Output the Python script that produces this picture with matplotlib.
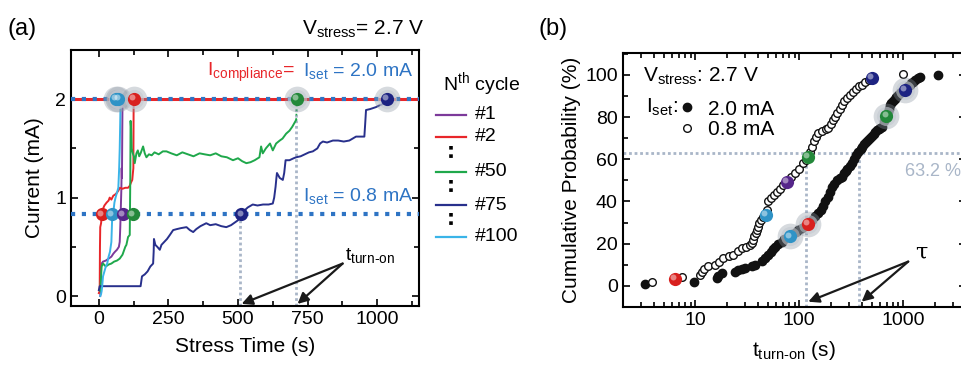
import numpy as np
import matplotlib
matplotlib.use('Agg')
import matplotlib.pyplot as plt
from matplotlib.lines import Line2D
from matplotlib.transforms import offset_copy
from matplotlib.ticker import MultipleLocator, LogLocator, FuncFormatter

plt.rcParams['font.family'] = ['Liberation Sans', 'DejaVu Sans']
plt.rcParams['mathtext.fontset'] = 'custom'
plt.rcParams['mathtext.rm'] = 'Liberation Sans'
plt.rcParams['mathtext.it'] = 'Liberation Sans:italic'

# ---- panel (a): current vs stress time, (t [s], I [mA]) ----
cycle_1 = [(5, 0.0), (7, 0.1), (8, 0.3), (10, 0.33), (15, 0.35), (25, 0.36), (35, 0.38),
           (45, 0.4), (52, 0.43), (58, 0.45), (65, 0.47), (72, 0.5), (75, 0.55), (77, 0.7),
           (79, 0.9), (81, 1.1), (82, 1.3), (83, 1.2), (84, 1.6), (85, 2.0)]
cycle_2 = [(0, 0.03), (3, 0.05), (4, 0.5), (5, 0.7), (8, 0.74), (10, 0.8), (14, 0.88),
           (20, 0.92), (28, 0.95), (35, 0.97), (39, 1.0), (45, 0.98), (52, 1.02), (58, 1.03),
           (65, 1.05), (70, 1.07), (75, 1.1), (85, 1.09), (95, 1.1), (105, 1.1), (111, 1.12),
           (115, 1.15), (120, 1.18), (124, 1.3), (125, 1.95), (126, 2.0)]
cycle_50 = [(5, 0.05), (8, 0.2), (10, 0.3), (15, 0.33), (25, 0.3), (35, 0.32), (45, 0.33),
            (55, 0.35), (65, 0.36), (75, 0.38), (85, 0.42), (95, 0.5), (99, 0.52), (105, 0.6),
            (111, 0.62), (113, 1.2), (114, 1.78), (116, 1.7), (118, 1.5), (122, 1.45),
            (126, 1.42), (129, 1.35), (135, 1.45), (140, 1.48), (145, 1.42), (150, 1.45),
            (159, 1.52), (165, 1.45), (171, 1.41), (180, 1.44), (190, 1.43), (200, 1.46),
            (215, 1.44), (230, 1.47), (243, 1.47), (260, 1.45), (280, 1.43), (300, 1.46),
            (320, 1.44), (340, 1.42), (362, 1.45), (380, 1.44), (400, 1.43), (420, 1.45),
            (440, 1.42), (460, 1.41), (482, 1.38), (500, 1.40), (515, 1.37), (530, 1.35),
            (545, 1.36), (560, 1.38), (577, 1.41), (583, 1.52), (589, 1.45), (600, 1.5),
            (615, 1.55), (625, 1.48), (637, 1.55), (650, 1.58), (660, 1.6), (673, 1.65),
            (685, 1.68), (695, 1.72), (703, 1.76), (709, 1.79)]
cycle_75 = [(0, 0.06), (3, 0.1), (10, 0.1), (40, 0.1), (80, 0.1), (120, 0.1), (150, 0.1),
            (155, 0.2), (165, 0.22), (175, 0.25), (185, 0.3), (195, 0.33), (197, 0.45),
            (198, 0.58), (203, 0.52), (210, 0.5), (219, 0.47), (225, 0.52), (235, 0.55),
            (245, 0.58), (255, 0.62), (267, 0.67), (280, 0.68), (295, 0.69), (315, 0.7),
            (327, 0.67), (339, 0.65), (350, 0.68), (365, 0.71), (386, 0.74), (400, 0.72),
            (420, 0.73), (440, 0.71), (458, 0.70), (475, 0.72), (490, 0.75), (500, 0.77),
            (508, 0.82), (520, 0.86), (535, 0.9), (553, 0.93), (570, 0.92), (590, 0.93),
            (610, 0.93), (625, 0.94), (630, 1.0), (635, 1.11), (638, 1.2), (640, 1.25),
            (650, 1.2), (661, 1.18), (666, 1.25), (671, 1.38), (685, 1.38), (700, 1.4),
            (709, 1.41), (725, 1.42), (740, 1.44), (755, 1.46), (769, 1.47), (785, 1.5),
            (795, 1.55), (805, 1.57), (820, 1.56), (841, 1.58), (860, 1.58), (880, 1.57),
            (900, 1.58), (912, 1.6), (924, 1.62), (940, 1.62), (954, 1.62), (957, 1.75),
            (960, 1.89), (975, 1.9), (996, 1.92), (1010, 1.94), (1020, 1.95), (1032, 1.99)]
cycle_100 = [(5, 0.0), (8, 0.02), (10, 0.05), (12, 0.1), (15, 0.2), (20, 0.25), (25, 0.3),
             (30, 0.33), (35, 0.4), (40, 0.45), (45, 0.55), (48, 0.8), (52, 0.85), (56, 0.95),
             (60, 1.0), (65, 1.05), (70, 1.1), (73, 1.3), (75, 1.5), (77, 1.8), (78, 2.0)]

cycle_names = ['#1', '#2', '#50', '#75', '#100']
cycle_colors = ['#7c3a9a', '#e8262a', '#1fa84b', '#28308c', '#3ab4e8']
curves_a = [cycle_1, cycle_2, cycle_50, cycle_75, cycle_100]

i_set_high = 2.0
i_set_low = 0.83
t_on_a = [508, 709]

# spheres on panel (a): (t, I, colour, halo)
spheres_a = [(10, 0.83, '#d8201e', False), (47, 0.83, '#2f93c6', False),
             (85, 0.83, '#55268a', False), (121, 0.83, '#23883a', False),
             (512, 0.83, '#1d2382', False),
             (60, 2.0, '#2f93c6', True), (70, 2.0, '#2f93c6', True),
             (125, 2.0, '#d8201e', True), (712, 2.0, '#23883a', True),
             (1034, 2.0, '#1d2382', True)]

# ---- panel (b): cumulative probability vs turn-on time ----
t_2mA = [3.3, 9.6, 16, 16.6, 17.9, 24, 25.9, 28, 30, 35, 37.5, 44, 46.7, 50, 53, 56, 58, 63,
         67.6, 72, 78, 85, 92, 98, 105, 113, 122, 132, 142, 152, 160, 168, 178, 190, 198,
         205, 215, 230, 245, 255, 270, 280, 290, 305, 318, 335, 350, 369, 390, 405, 420, 440,
         460, 480, 500, 520, 540, 560, 580, 600, 620, 650, 690, 710, 730, 750, 770, 800, 830,
         860, 895, 930, 960, 1000, 1040, 1080, 1120, 1160, 1200, 1250, 1300, 1380, 1450, 2140]
p_2mA = [1.0, 2.0, 3.6, 4.7, 6.0, 6.8, 7.3, 7.9, 8.4, 9.4, 10.0, 12, 13, 14.7, 16, 17.5, 18.6,
         20, 21, 22, 23.2, 24.5, 25.5, 26.5, 27.5, 28.5, 29.4, 31, 33, 34.4, 36, 38, 40,
         42.3, 44.5, 47, 48.5, 50, 51, 51.8, 53.5, 54.5, 55.5, 57, 58, 60, 62, 63.6, 65, 66,
         67, 68, 69, 70, 71, 72, 73, 73.8, 74.5, 75, 75.5, 78, 80.6, 82.5, 84, 85.5, 86.6,
         87.5, 88.5, 89.5, 90.5, 91.2, 92, 92.5, 92.9, 93.7, 94.5, 95.2, 96, 96.8, 97.5,
         98.5, 99.2, 100]
t_08mA = [3.8, 7.4, 11.1, 11.5, 12.2, 13.3, 15.5, 17, 18.6, 21, 23, 25.5, 27.9, 30.5, 33.6,
          35, 36, 37, 38, 39, 40, 41, 43, 45, 47.4, 48.5, 50, 53, 57, 60.5, 65, 70, 75.5, 83,
          91, 100, 109, 115, 120, 126, 132, 140, 146, 152, 165, 180, 190, 200, 210, 220, 232,
          245, 255, 270, 290, 308, 330, 355, 378, 398, 430, 470, 500, 990]
p_08mA = [2, 4.1, 5.2, 6.8, 8, 9.2, 10, 11.5, 13, 14, 14.7, 16.5, 17.9, 18.5, 19.4, 20.5,
          21.8, 23.5, 25, 26.5, 28, 29.7, 31, 32.5, 33.6, 36, 40, 41.5, 43, 44.7, 46, 48,
          49.4, 51.5, 53.4, 55.5, 58, 59.5, 61.3, 63.5, 66, 68.5, 70.5, 72.4, 73.5, 74.2,
          74.7, 76.5, 78.5, 80.2, 82, 84, 85.8, 87.5, 89, 90.5, 92, 93.5, 94.5, 95.3, 96.5,
          97.8, 98.4, 100.3]
p_char = 63.2
tau_b = [117, 378]

spheres_b = [(6.3, 3.2, '#d8201e', False), (47.4, 33.6, '#2f93c6', False),
             (75.5, 49.4, '#55268a', False), (120, 61.3, '#23883a', False),
             (500, 98.4, '#1d2382', False),
             (81, 23.4, '#2f93c6', True), (122, 29.4, '#d8201e', True),
             (690, 80.6, '#23883a', True), (1040, 92.9, '#1d2382', True)]

grey = '#a9b6c8'
blue = '#2e74c4'
red = '#e8262a'

fig = plt.figure(figsize=(9.61, 3.65), dpi=100)
ax1 = fig.add_axes([0.0739, 0.162, 0.362, 0.701])
ax2 = fig.add_axes([0.648, 0.159, 0.357, 0.696])


def sphere(ax, x, y, color, halo, ms=9.5):
    if halo:
        ax.plot(x, y, 'o', ms=ms * 1.95, color='#8c96a3', alpha=0.35, mec='none', zorder=6)
        ax.plot(x, y, 'o', ms=ms * 1.45, color='#c4cad2', alpha=0.6, mec='none', zorder=6)
    ax.plot(x, y, 'o', ms=ms, color=color, mec='none', zorder=7)
    hl = offset_copy(ax.transData, fig=ax.figure, x=-1.3, y=1.3, units='points')
    ax.plot(x, y, 'o', ms=ms * 0.45, color='white', alpha=0.45, mec='none',
            zorder=8, transform=hl)


def style(ax):
    for s in ax.spines.values():
        s.set_linewidth(1.5)
    ax.tick_params(which='both', direction='in', top=True, right=True, labelsize=14,
                   width=1.2)
    ax.tick_params(which='major', length=5)
    ax.tick_params(which='minor', length=3.5)


# ---------------- panel (a) ----------------
ax1.axhline(i_set_high, color=red, lw=2.2, zorder=2)
ax1.axhline(i_set_high, color=blue, lw=3, ls=(0, (1, 1.6)), zorder=3)
ax1.axhline(i_set_low, color=blue, lw=3, ls=(0, (1, 1.6)), zorder=3)
ax1.plot([t_on_a[0], t_on_a[0]], [-0.1, i_set_low], color=grey, lw=2, ls=(0, (1, 1)), zorder=1)
ax1.plot([t_on_a[1], t_on_a[1]], [-0.1, i_set_high], color=grey, lw=2, ls=(0, (1, 1)), zorder=1)

for data, c in zip(curves_a, cycle_colors):
    arr = np.array(data)
    ax1.plot(arr[:, 0], arr[:, 1], color=c, lw=1.4, zorder=4)
ax1.plot([709, 712], [1.79, 2.0], color=cycle_colors[2], lw=1.2, ls=':', zorder=4)

for t, i, c, h in spheres_a:
    sphere(ax1, t, i, c, h)

ax1.set_xlim(-100, 1150)
ax1.set_ylim(-0.1, 2.5)
ax1.xaxis.set_major_locator(MultipleLocator(250))
ax1.xaxis.set_minor_locator(MultipleLocator(125))
ax1.yaxis.set_major_locator(MultipleLocator(1))
ax1.yaxis.set_minor_locator(MultipleLocator(0.5))
style(ax1)
ax1.set_xlabel('Stress Time (s)', fontsize=15, labelpad=7)
ax1.set_ylabel('Current (mA)', fontsize=15, labelpad=8)

ax1.text(705, 2.24, r'I$_{\rm compliance}$=', color=red, fontsize=14, ha='right')
ax1.text(735, 2.24, r'I$_{\rm set}$ = 2.0 mA', color=blue, fontsize=14)
ax1.text(735, 0.97, r'I$_{\rm set}$ = 0.8 mA', color=blue, fontsize=14)
ax1.text(885, 0.37, r't$_{\rm turn\text{-}on}$', fontsize=14)
for tx in t_on_a:
    ax1.annotate('', xy=(tx + 5, -0.08), xytext=(876, 0.33),
                 arrowprops=dict(arrowstyle='-|>', color='#1a1a1a', lw=1.6,
                                 mutation_scale=16, shrinkA=0, shrinkB=0))

# legend drawn by hand (dots between entries)
fig.text(0.461, 0.753, r'N$^{\rm th}$ cycle', fontsize=14)
leg_y = [0.685, 0.625, 0.529, 0.438, 0.351]
for y, c, n in zip(leg_y, cycle_colors, cycle_names):
    fig.add_artist(Line2D([0.4537, 0.485], [y, y], color=c, lw=1.6))
    fig.text(0.494, y, n, fontsize=14, va='center')
for y0, y1 in [(0.600, 0.555), (0.507, 0.462), (0.416, 0.372)]:
    fig.add_artist(Line2D([0.469, 0.469], [y0, y1], color='black', lw=2.6,
                          ls=(0, (1, 1.3))))

fig.text(0.008, 0.905, '(a)', fontsize=17)
fig.text(0.314, 0.905, r'V$_{\rm stress}$= 2.7 V', fontsize=15)
fig.text(0.56, 0.905, '(b)', fontsize=17)

# ---------------- panel (b) ----------------
ax2.set_xscale('log')
ax2.axhline(p_char, color=grey, lw=2, ls=(0, (1, 1)), zorder=1)
for tx in tau_b:
    ax2.plot([tx, tx], [-10, p_char], color=grey, lw=2, ls=(0, (1, 1)), zorder=1)

ax2.plot(t_2mA, p_2mA, 'o', ms=6, color='#111111', mec='#111111', zorder=3)
ax2.plot(t_08mA, p_08mA, 'o', ms=5.5, mfc='white', mec='#111111', mew=1, zorder=3)

for t, p, c, h in spheres_b:
    sphere(ax2, t, p, c, h)

ax2.set_xlim(2, 4000)
ax2.set_ylim(-10, 110.4)
ax2.yaxis.set_major_locator(MultipleLocator(20))
ax2.yaxis.set_minor_locator(MultipleLocator(10))
ax2.xaxis.set_major_locator(LogLocator(base=10))
ax2.xaxis.set_minor_locator(LogLocator(base=10, subs=np.arange(2, 10)))
ax2.xaxis.set_major_formatter(FuncFormatter(lambda v, p: '%d' % v))
style(ax2)
ax2.set_xlabel(r't$_{\rm turn\text{-}on}$ (s)', fontsize=15, labelpad=7)
ax2.set_ylabel('Cumulative Probability (%)', fontsize=15, labelpad=3)

ax2.text(0.058, 0.886, r'V$_{\rm stress}$: 2.7 V', transform=ax2.transAxes, fontsize=15)
ax2.text(0.069, 0.764, r'I$_{\rm set}$:', transform=ax2.transAxes, fontsize=15)
ax2.plot(0.186, 0.789, 'o', ms=6, color='#111111', transform=ax2.transAxes)
ax2.plot(0.186, 0.704, 'o', ms=5.5, mfc='white', mec='#111111', mew=1,
         transform=ax2.transAxes)
ax2.text(0.248, 0.757, '2.0 mA', transform=ax2.transAxes, fontsize=15)
ax2.text(0.248, 0.677, '0.8 mA', transform=ax2.transAxes, fontsize=15)
ax2.text(0.822, 0.516, '63.2 %', transform=ax2.transAxes, fontsize=13, color=grey)
ax2.text(1290, 13, 'τ', fontsize=16, family=['DejaVu Serif'])
for tx in [122, 398]:
    ax2.annotate('', xy=(tx, -7.5), xytext=(1117, 11.5),
                 arrowprops=dict(arrowstyle='-|>', color='#1a1a1a', lw=1.6,
                                 mutation_scale=16, shrinkA=0, shrinkB=0))

fig.savefig('out.png', dpi=100)
